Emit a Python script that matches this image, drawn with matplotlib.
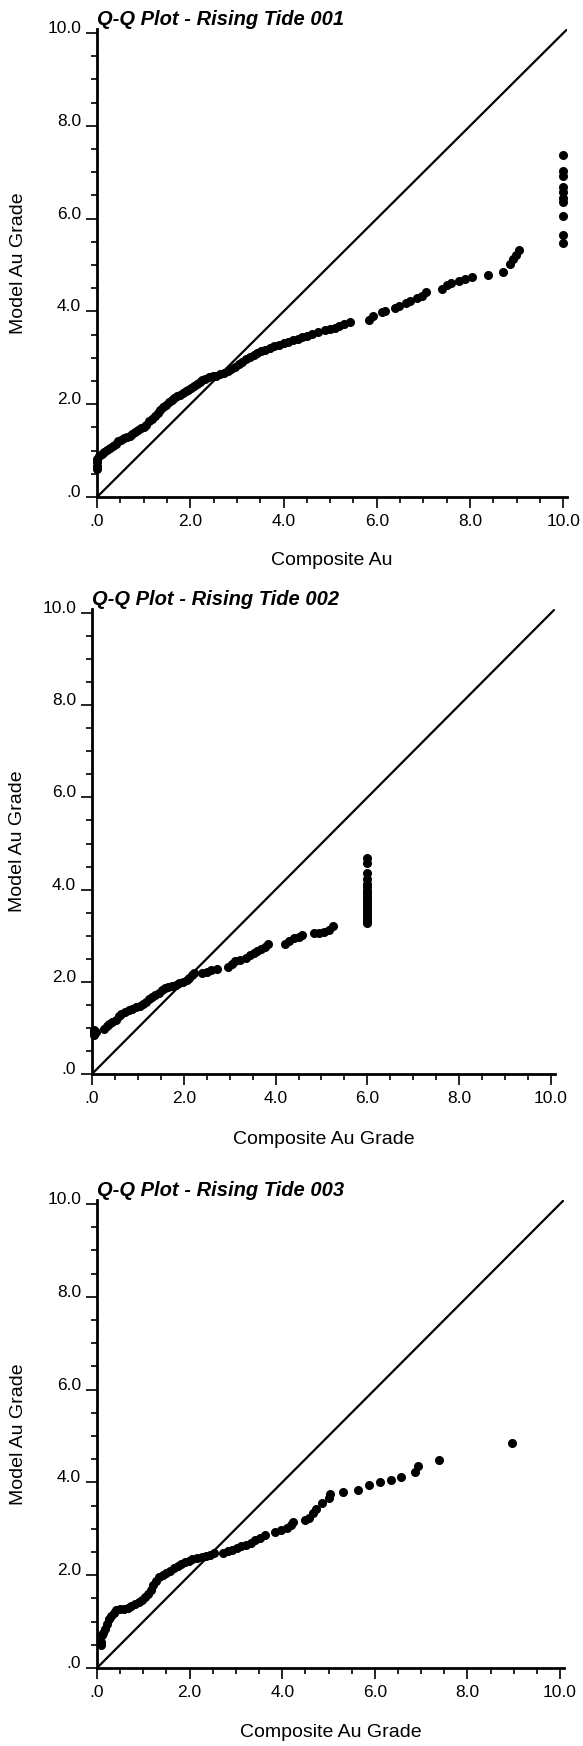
import matplotlib
matplotlib.use("Agg")
import matplotlib.pyplot as plt
from matplotlib.ticker import MultipleLocator, FuncFormatter

plt.rcParams['font.family'] = ['Liberation Sans', 'DejaVu Sans']

# ---- data (composite quantile, model quantile) ----
titles = ["Q-Q Plot - Rising Tide 001", "Q-Q Plot - Rising Tide 002", "Q-Q Plot - Rising Tide 003"]
xlabels = ["Composite Au", "Composite Au Grade", "Composite Au Grade"]
ylabel = "Model Au Grade"

x1 = [0.00, 0.00, 0.00, 0.00, 0.04, 0.10, 0.16, 0.22, 0.28, 0.34, 0.40, 0.46, 0.52, 0.58, 0.64,
      0.70, 0.76, 0.82, 0.88, 0.94, 1.00, 1.06, 1.12, 1.18, 1.24, 1.30, 1.36, 1.42, 1.48, 1.54,
      1.60, 1.66, 1.72, 1.78, 1.84, 1.90, 1.96, 2.02, 2.08, 2.14, 2.20, 2.26, 2.32, 2.40, 2.48,
      2.56, 2.64, 2.72, 2.80, 2.88, 2.96, 3.04, 3.12, 3.20, 3.28, 3.36, 3.44, 3.52, 3.60, 3.70,
      3.80, 3.90, 4.00, 4.10, 4.20, 4.30, 4.40, 4.50, 4.62, 4.75, 4.88, 5.00, 5.10, 5.20, 5.30,
      5.42, 5.83, 5.92, 6.12, 6.18, 6.38, 6.48, 6.62, 6.72, 6.86, 6.98, 7.06, 7.40, 7.50, 7.60,
      7.76, 7.90, 8.05, 8.38, 8.70, 8.86, 8.92, 8.98, 9.04,
      10.0, 10.0, 10.0, 10.0, 10.0, 10.0, 10.0, 10.0, 10.0, 10.0]
y1 = [0.60, 0.68, 0.75, 0.82, 0.88, 0.92, 0.97, 1.02, 1.06, 1.10, 1.15, 1.20, 1.24, 1.27, 1.29,
      1.32, 1.36, 1.41, 1.45, 1.48, 1.50, 1.56, 1.63, 1.68, 1.74, 1.82, 1.88, 1.94, 1.99, 2.04,
      2.09, 2.14, 2.17, 2.21, 2.25, 2.28, 2.31, 2.35, 2.39, 2.43, 2.47, 2.52, 2.55, 2.58, 2.60,
      2.62, 2.65, 2.68, 2.72, 2.76, 2.81, 2.86, 2.92, 2.97, 3.02, 3.06, 3.10, 3.14, 3.17, 3.21,
      3.25, 3.28, 3.31, 3.34, 3.38, 3.41, 3.45, 3.48, 3.52, 3.55, 3.59, 3.62, 3.64, 3.68, 3.73,
      3.78, 3.82, 3.90, 3.98, 4.00, 4.08, 4.12, 4.19, 4.23, 4.29, 4.34, 4.42, 4.48, 4.58, 4.62,
      4.65, 4.70, 4.75, 4.79, 4.86, 5.02, 5.12, 5.22, 5.33,
      7.37, 7.03, 6.93, 6.68, 6.57, 6.45, 6.35, 6.05, 5.65, 5.48]

x2 = [0.04, 0.04, 0.04, 0.04, 0.08, 0.26, 0.32, 0.38, 0.44, 0.52, 0.58, 0.64, 0.72, 0.80, 0.88,
      0.96, 1.04, 1.12, 1.18, 1.24, 1.30, 1.38, 1.46, 1.52, 1.58, 1.66, 1.74, 1.82, 1.90, 1.98,
      2.06, 2.12, 2.18, 2.22, 2.40, 2.50, 2.60, 2.72, 2.96, 3.04, 3.12, 3.22, 3.36, 3.44, 3.52,
      3.60, 3.68, 3.76, 3.84, 4.20, 4.30, 4.40, 4.50, 4.58, 4.84, 4.94, 5.06, 5.16, 5.26,
      6.0, 6.0, 6.0, 6.0, 6.0, 6.0, 6.0, 6.0, 6.0, 6.0, 6.0, 6.0, 6.0, 6.0, 6.0, 6.0, 6.0, 6.0, 6.0]
y2 = [0.85, 0.88, 0.93, 0.95, 0.90, 0.98, 1.04, 1.08, 1.13, 1.18, 1.25, 1.30, 1.34, 1.38, 1.42,
      1.46, 1.48, 1.52, 1.57, 1.62, 1.66, 1.71, 1.76, 1.83, 1.86, 1.88, 1.91, 1.94, 1.97, 2.00,
      2.03, 2.08, 2.15, 2.20, 2.20, 2.22, 2.25, 2.28, 2.32, 2.38, 2.45, 2.48, 2.52, 2.58, 2.62,
      2.66, 2.71, 2.76, 2.82, 2.83, 2.88, 2.94, 2.98, 3.02, 3.06, 3.06, 3.09, 3.13, 3.20,
      3.27, 3.32, 3.38, 3.44, 3.50, 3.56, 3.62, 3.68, 3.74, 3.80, 3.86, 3.92, 3.98, 4.05, 4.12,
      4.22, 4.35, 4.58, 4.68]

x3 = [0.08, 0.08, 0.10, 0.14, 0.18, 0.22, 0.26, 0.30, 0.36, 0.42, 0.50, 0.58, 0.66, 0.74, 0.82,
      0.90, 0.98, 1.04, 1.10, 1.16, 1.22, 1.28, 1.34, 1.42, 1.50, 1.58, 1.66, 1.74, 1.82, 1.90,
      1.98, 2.06, 2.16, 2.26, 2.36, 2.44, 2.52, 2.72, 2.82, 2.92, 3.02, 3.12, 3.22, 3.32, 3.42,
      3.52, 3.62, 3.84, 3.98, 4.10, 4.20, 4.24, 4.50, 4.58, 4.66, 4.74, 4.86, 5.00, 5.04, 5.32,
      5.64, 5.88, 6.12, 6.36, 6.56, 6.86, 6.94, 7.38, 8.96]
y3 = [0.50, 0.55, 0.70, 0.76, 0.84, 0.95, 1.05, 1.12, 1.18, 1.24, 1.26, 1.28, 1.30, 1.34, 1.38,
      1.42, 1.46, 1.52, 1.60, 1.68, 1.78, 1.88, 1.95, 2.00, 2.04, 2.10, 2.15, 2.20, 2.24, 2.28,
      2.31, 2.34, 2.37, 2.39, 2.41, 2.44, 2.48, 2.48, 2.51, 2.54, 2.58, 2.62, 2.66, 2.70, 2.75,
      2.80, 2.87, 2.92, 2.97, 3.02, 3.07, 3.14, 3.18, 3.24, 3.34, 3.42, 3.56, 3.66, 3.74, 3.80,
      3.84, 3.94, 4.00, 4.06, 4.12, 4.22, 4.36, 4.48, 4.84]

series = [(x1, y1), (x2, y2), (x3, y3)]

boxes = [[0.1664, 0.7153, 0.8062, 0.2679],
         [0.1578, 0.3849, 0.7936, 0.2661],
         [0.1664, 0.0447, 0.8005, 0.2679]]
ylab_x = [-0.168, -0.162, -0.168]
xlab_y = [-0.135, -0.140, -0.137]

fig = plt.figure(figsize=(5.83, 17.46), dpi=100)

def fmt(v, pos):
    s = "%.1f" % v
    if s.startswith("0"):
        s = s[1:]
    return s

for i in range(3):
    ax = fig.add_axes(boxes[i])
    xs, ys = series[i]
    lim = 10.08
    ax.plot([0, lim], [0, lim], color='black', lw=1.6, solid_capstyle='butt', zorder=2)
    ax.plot(xs, ys, 'o', color='black', ms=5.5, mec='black', zorder=3, clip_on=False)
    ax.set_xlim(0, lim)
    ax.set_ylim(0, lim)

    for side in ['top', 'right']:
        ax.spines[side].set_visible(False)
    for side in ['left', 'bottom']:
        ax.spines[side].set_linewidth(2.0)

    ax.xaxis.set_major_locator(MultipleLocator(2))
    ax.yaxis.set_major_locator(MultipleLocator(2))
    ax.xaxis.set_minor_locator(MultipleLocator(0.5))
    ax.yaxis.set_minor_locator(MultipleLocator(0.5))
    ax.xaxis.set_major_formatter(FuncFormatter(fmt))
    ax.yaxis.set_major_formatter(FuncFormatter(fmt))
    ax.tick_params(which='major', direction='out', length=8, width=1.2, labelsize=12.5)
    ax.tick_params(which='minor', direction='out', length=4.5, width=1.2)
    ax.tick_params(axis='y', which='major', pad=3.5)
    ax.tick_params(axis='x', which='major', pad=4)
    for t in ax.get_yticklabels():
        t.set_verticalalignment('baseline')

    ax.set_title(titles[i], loc='left', pad=3, fontsize=14.5,
                 fontweight='bold', fontstyle='italic')
    ax.set_xlabel(xlabels[i], fontsize=14)
    ax.xaxis.set_label_coords(0.5, xlab_y[i])
    ax.xaxis.label.set_verticalalignment('center')
    ax.set_ylabel(ylabel, fontsize=14)
    ax.yaxis.set_label_coords(ylab_x[i], 0.5)
    ax.yaxis.label.set_verticalalignment('center')

fig.savefig("out.png", dpi=100)
